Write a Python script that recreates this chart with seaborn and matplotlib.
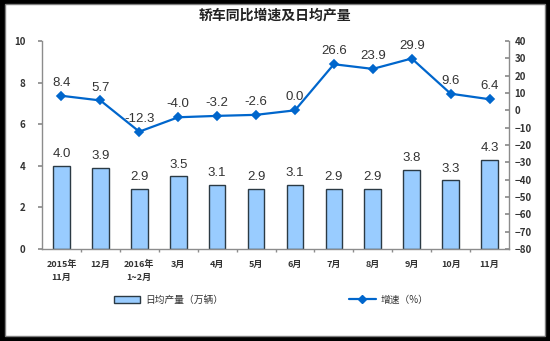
import matplotlib
matplotlib.use("Agg")
import matplotlib.pyplot as plt
from matplotlib.patches import Rectangle
from matplotlib.lines import Line2D
from matplotlib.patches import Patch
import seaborn as sns
import pandas as pd

# Monthly categories
months = ["2015年\n11月", "12月", "2016年\n1~2月", "3月", "4月", "5月",
          "6月", "7月", "8月", "9月", "10月", "11月"]
# Average daily output (10k units)
daily_output = [4.0, 3.9, 2.9, 3.5, 3.1, 2.9, 3.1, 2.9, 2.9, 3.8, 3.3, 4.3]
# Year-on-year growth (%)
growth = [8.4, 5.7, -12.3, -4.0, -3.2, -2.6, 0.0, 26.6, 23.9, 29.9, 9.6, 6.4]

title = "轿车同比增速及日均产量"
bar_label = "日均产量（万辆）"
line_label = "增速（%）"

df = pd.DataFrame({"month": months, "output": daily_output, "growth": growth})

sns.set_theme(style="white")
plt.rcParams["font.family"] = ["Noto Sans CJK SC", "DejaVu Sans"]

BAR_FACE = "#99CCFF"
BAR_EDGE = "#2b3a44"
LINE_C = "#0066CC"
TXT = "#333333"
SPINE = "#8c8c8c"
NUM_FONT = "Liberation Sans"

fig = plt.figure(figsize=(5.5, 3.41), dpi=100, facecolor="black")
# white page inside the black frame
fig.patches.append(Rectangle((5 / 550, 5 / 341), 540 / 550, 332 / 341,
                             transform=fig.transFigure, facecolor="white",
                             edgecolor="#7f7f7f", linewidth=1.0, zorder=-10))

ax = fig.add_axes([42 / 550, 1 - 249 / 341, 467 / 550, 208 / 341])
ax.set_facecolor("none")

sns.barplot(data=df, x="month", y="output", ax=ax, color=BAR_FACE,
            width=0.43, edgecolor=BAR_EDGE, linewidth=1.0, saturation=1)
ax.set_ylim(0, 10)
ax.set_yticks(range(0, 11, 2))
ax.set_xlim(-0.5, len(months) - 0.5)
ax.set_xlabel("")
ax.set_ylabel("")

for i, v in enumerate(daily_output):
    ax.annotate(f"{v:.1f}", (i, v), xytext=(0, 4), textcoords="offset points",
                ha="center", va="bottom", fontsize=9.5, color=TXT,
                family=NUM_FONT)

ax2 = ax.twinx()
ax2.set_facecolor("none")
sns.pointplot(data=df, x="month", y="growth", ax=ax2, color=LINE_C,
              markers="D", linestyles="-", linewidth=1.6, markersize=4)
ax2.set_ylim(-80, 40)
ax2.set_yticks(range(-80, 41, 10))
ax2.set_xlim(-0.5, len(months) - 0.5)
ax2.set_ylabel("")
ax2.set_xlabel("")

for i, v in enumerate(growth):
    ax2.annotate(f"{v:.1f}", (i, v), xytext=(0, 5), textcoords="offset points",
                 ha="center", va="bottom", fontsize=9.5, color=TXT,
                 family=NUM_FONT)

# spines and ticks
for a in (ax, ax2):
    a.spines["top"].set_visible(False)
    for s in ("left", "right", "bottom"):
        a.spines[s].set_color(SPINE)
        a.spines[s].set_linewidth(1.0)
ax.spines["right"].set_visible(False)
ax2.spines["left"].set_visible(False)
ax2.spines["bottom"].set_visible(False)

ax.tick_params(axis="y", direction="out", length=3, color=SPINE,
               labelsize=7, labelcolor=TXT, pad=9, left=True)
ax2.tick_params(axis="y", direction="in", length=3, color=SPINE,
                labelsize=7, labelcolor=TXT, pad=4, right=True)
ax.tick_params(axis="x", length=0, labelsize=6.5, labelcolor=TXT, pad=8)
ax.set_xticks(range(len(months)))
ax.set_xticklabels(months, linespacing=1.5)
for t in ax.get_xticklabels() + ax.get_yticklabels() + ax2.get_yticklabels():
    t.set_fontweight("bold")

# small separators between categories on the x axis
ax.set_xticks([i + 0.5 for i in range(len(months) - 1)], minor=True)
ax.tick_params(axis="x", which="minor", direction="out", length=2,
               color=SPINE, bottom=True)

fig.text(0.5, 1 - 16 / 341, title, ha="center", va="center",
         fontsize=10, color="#222222", fontweight="bold")

handles = [Patch(facecolor=BAR_FACE, edgecolor=BAR_EDGE, linewidth=1.0),
           Line2D([], [], color=LINE_C, lw=1.6, marker="D", markersize=4)]
fig.legend(handles, [bar_label, line_label], ncol=2, frameon=False,
           loc="center", bbox_to_anchor=(271 / 550, 1 - 300 / 341),
           fontsize=7, labelcolor=TXT, handlelength=2.7, handleheight=0.8,
           handletextpad=0.5, columnspacing=13)

fig.savefig("out.png", dpi=100, facecolor="black")
